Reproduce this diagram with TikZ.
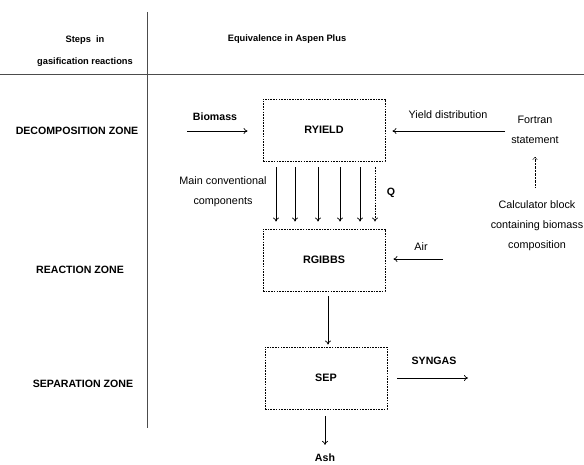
\documentclass[tikz,border=0pt]{standalone}
\usepackage{fontspec}
\setmainfont{Liberation Sans}
\usetikzlibrary{arrows.meta}
\begin{document}
\begin{tikzpicture}[x=1pt,y=1pt,
  txt/.style={font=\fontsize{10.8}{20}\selectfont, inner sep=0pt},
  btxt/.style={font=\fontsize{10.6}{20}\selectfont\bfseries, inner sep=0pt},
  htxt/.style={font=\fontsize{9.3}{22}\selectfont\bfseries, inner sep=0pt},
  unit/.style={draw, line width=0.9pt, dash pattern=on 1.6pt off 1.1pt,
    minimum width=122pt, minimum height=62pt, inner sep=0pt,
    font=\fontsize{10.8}{12}\selectfont\bfseries},
  flow/.style={line width=0.7pt, -{To[length=4pt,width=6pt]}},
  rule/.style={line width=0.6pt, draw=black!70}]
\useasboundingbox (0,0) rectangle (584,-465);

% table frame
\draw[rule] (147,-12) -- (147,-428);
\draw[rule] (0,-74) -- (584,-74);

% headers
\node[htxt, align=center] (h1) at (85,-51) {Steps\ \ in\\gasification reactions};
\node[htxt] (h2) at (287,-39) {Equivalence in Aspen Plus};

% zones
\node[btxt] (z1) at (77,-131) {DECOMPOSITION ZONE};
\node[btxt] (z2) at (80,-270) {REACTION ZONE};
\node[btxt] (z3) at (83,-384) {SEPARATION ZONE};

% unit operation blocks
\node[unit] (ry) at (324,-130) {RYIELD};
\node[unit] (rg) at (324,-260) {RGIBBS};
\node[unit] (sep) at (326,-378) {SEP};

% biomass feed
\coordinate (bin) at (187,-131);
\draw[flow, shorten >=15pt] (bin) -- (ry.west |- bin);
\node[btxt] (lbio) at (215,-117) {Biomass};

% yield distribution
\node[txt, align=center] (fort) at (535,-130) {Fortran\\statement};
\coordinate (yd) at (505,-131);
\draw[flow, shorten >=7pt] (yd) -- (ry.east |- yd);
\node[txt] (lyd) at (448,-115) {Yield distribution};

% calculator block
\node[txt, align=center] (calc) at (537,-226) {Calculator block\\containing biomass\\composition};
\coordinate (cup) at (535,-187);
\draw[line width=0.4pt, densely dotted, -{To[length=3pt,width=5pt]}] (cup) -- (535,-157);

% conventional components and heat stream
\foreach \x in {276,295,318,340,360}{
  \draw[flow, shorten <=6pt, shorten >=7pt] (ry.south -| \x,0) -- (rg.north -| \x,0);
}
\draw[flow, dash pattern=on 1.6pt off 1.1pt, shorten <=6pt, shorten >=7pt]
  (ry.south -| 375,0) -- (rg.north -| 375,0);
\node[txt, align=center] (lmc) at (223,-192) {Main conventional\\components};
\node[btxt] (lq) at (391,-193) {Q};

% air feed
\coordinate (air) at (443,-259);
\draw[flow, shorten >=8pt] (air) -- (rg.east |- air);

\node[txt] (lair) at (421,-247) {Air};

% RGIBBS to separator
\draw[flow, shorten <=5pt, shorten >=2pt] (rg.south -| 328,0) -- (sep.north -| 328,0);

% products
\coordinate (sgo) at (468,-378);
\draw[flow, shorten <=10pt] (sep.east) -- (sgo);
\node[btxt] (lsg) at (434,-361) {SYNGAS};
\node[btxt] (lash) at (325,-458) {Ash};
\draw[flow, shorten <=7pt, shorten >=9pt] (sep.south -| 325,0) -- (lash.north);
\end{tikzpicture}
\end{document}
